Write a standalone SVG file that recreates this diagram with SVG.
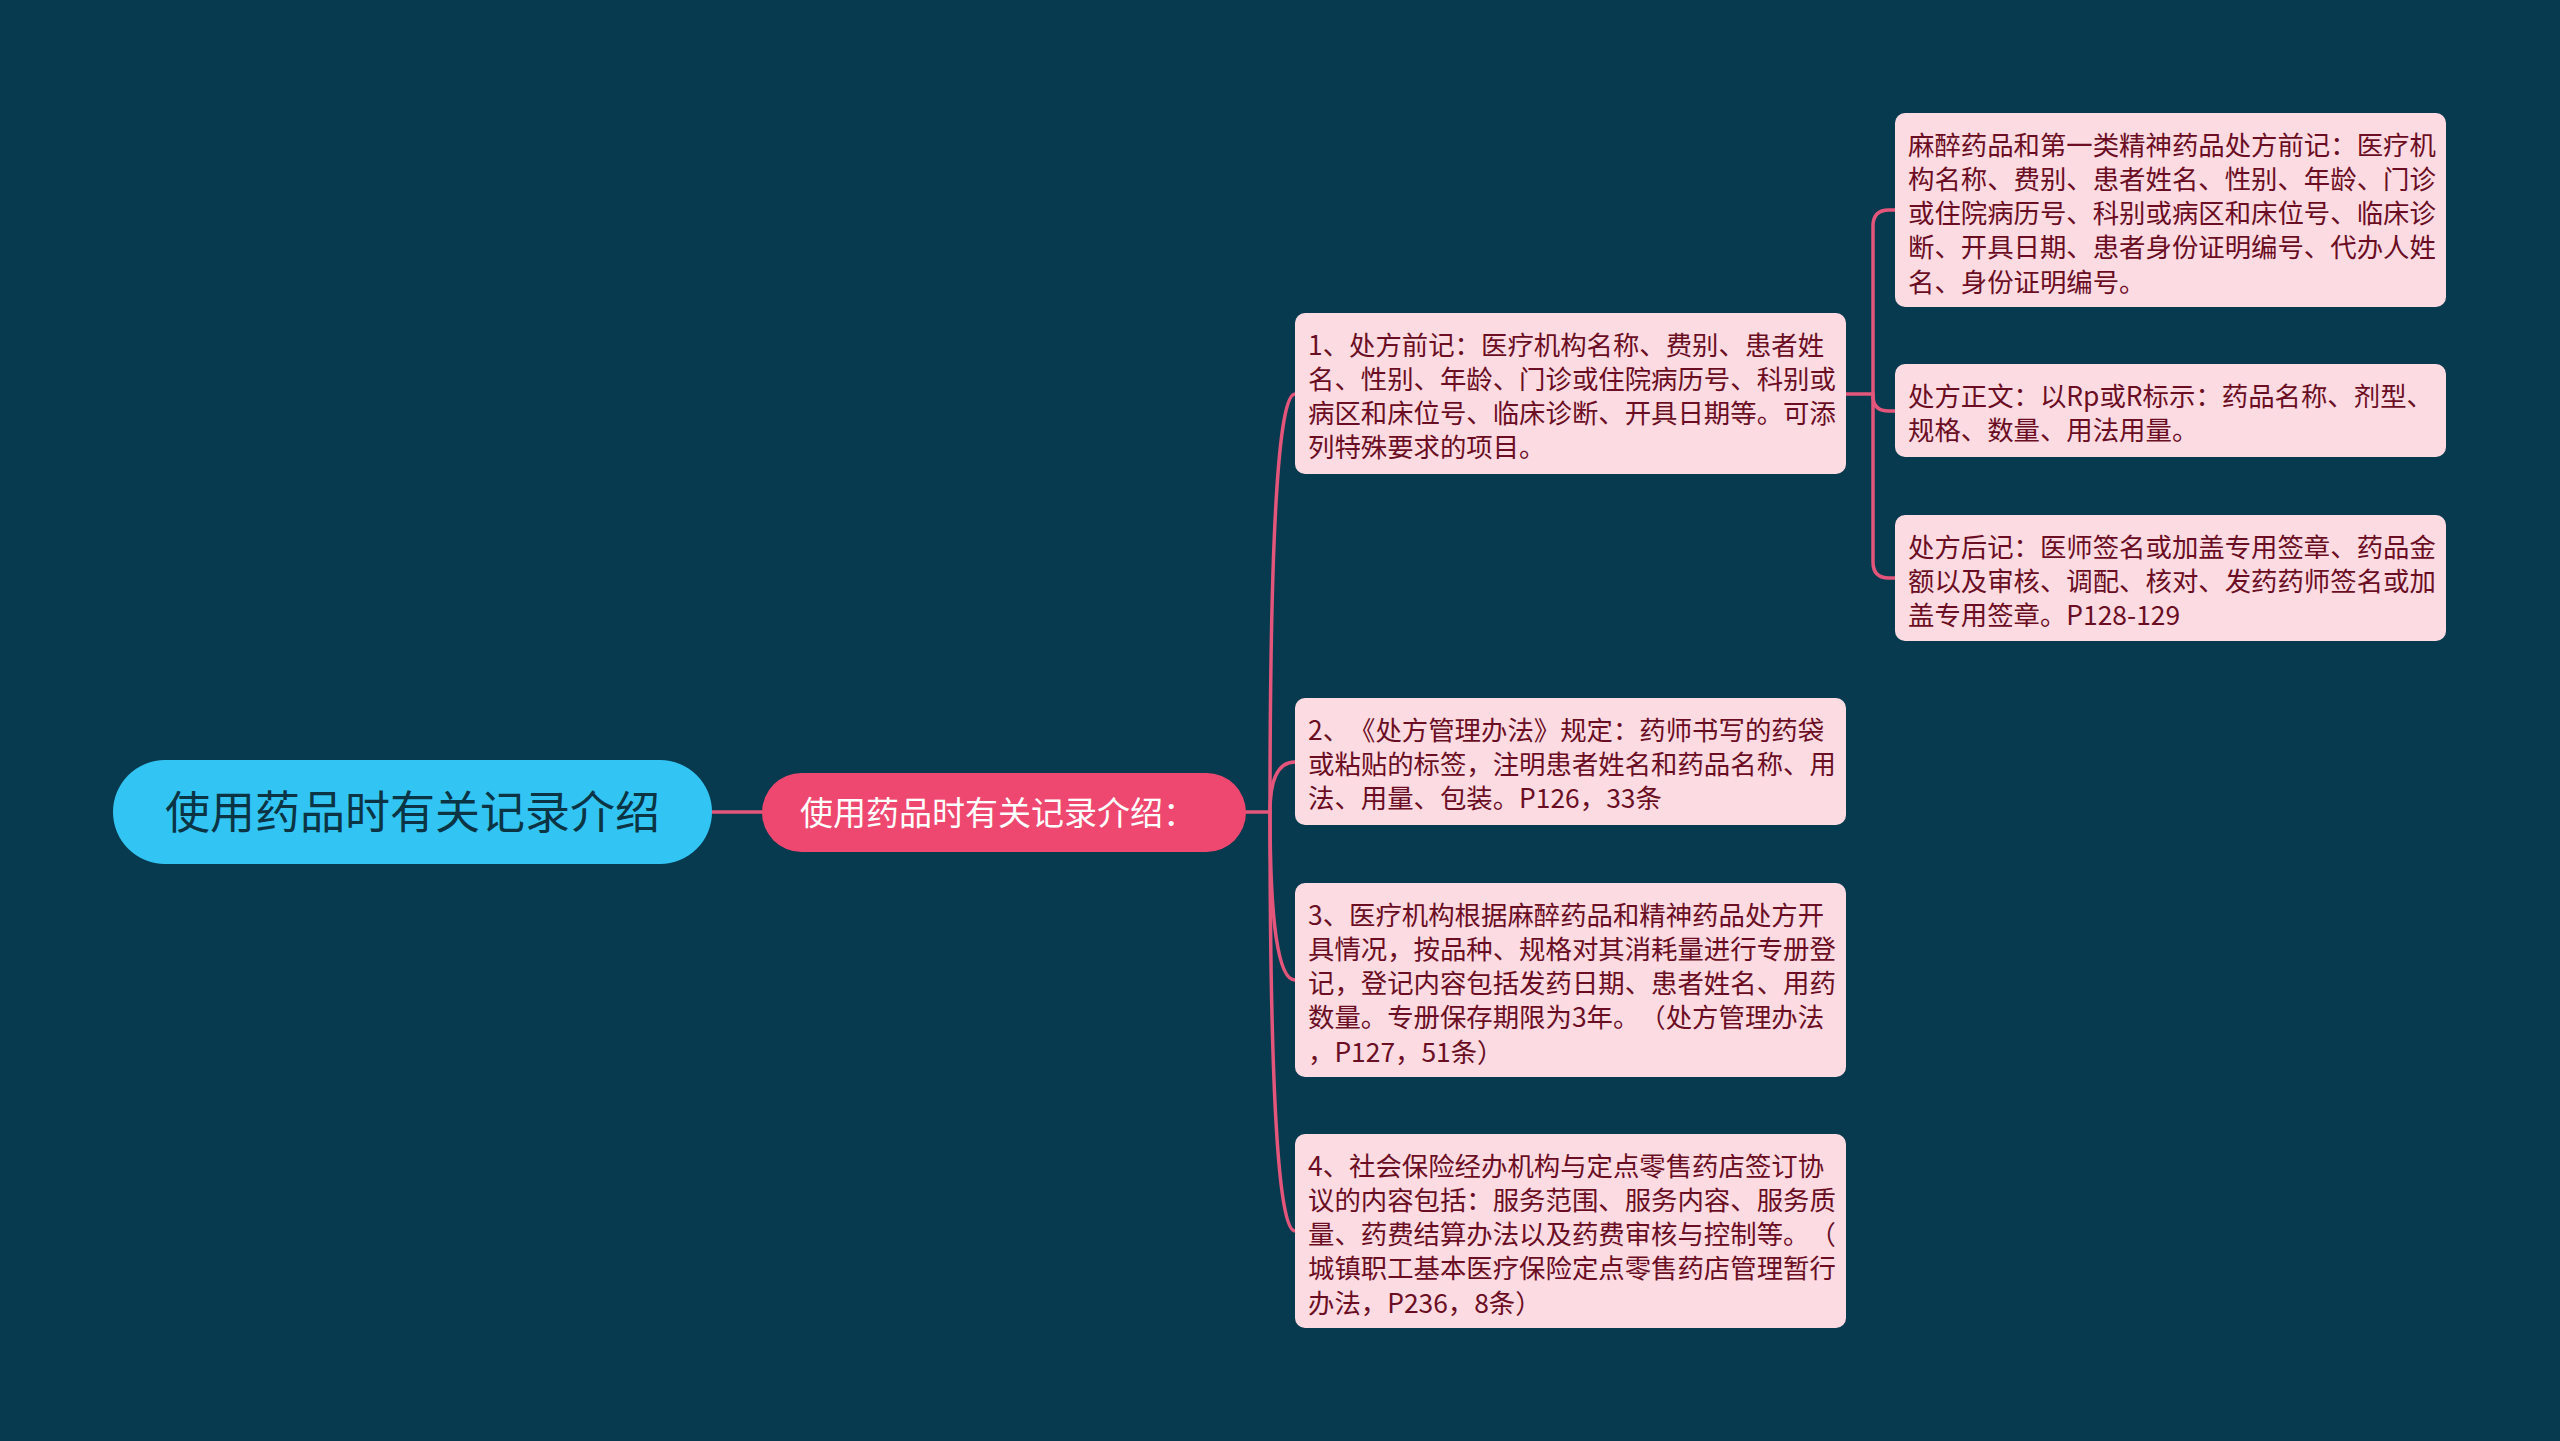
<svg xmlns="http://www.w3.org/2000/svg" width="2560" height="1441" viewBox="0 0 2560 1441">
<style>
.bg{fill:#073a4e}
.conn{fill:none;stroke:#e3557a;stroke-width:3.5;stroke-linecap:round}
.root{fill:#32c5f3}
.sub{fill:#ef4870}
.leaf{fill:#fddbe3}
.t{font-family:"Noto Sans CJK SC","Noto Sans",sans-serif;text-spacing-trim:space-all}
.rt{font-size:45px;fill:#0b3445}
.st{font-size:33px;fill:#ffffff}
.lt{font-size:26.4px;fill:#6b0e24}
</style>
<rect class="bg" x="0" y="0" width="2560" height="1441"/>
<g id="connectors">
<path class="conn" d="M712 812 H762"/>
<path class="conn" d="M1246 812 H1270"/>
<path class="conn" d="M1270 812 Q1270 394 1295 394"/>
<path class="conn" d="M1270 812 Q1270 762 1295 762"/>
<path class="conn" d="M1270 812 Q1270 980 1295 980"/>
<path class="conn" d="M1270 812 Q1270 1231 1295 1231"/>
<path class="conn" d="M1846 394 H1873"/>
<path class="conn" d="M1873 394 V226 Q1873 210 1889 210 H1895"/>
<path class="conn" d="M1873 394 V396 Q1873 411 1889 411 H1895"/>
<path class="conn" d="M1873 394 V562 Q1873 578 1889 578 H1895"/>
</g>
<g id="root">
<rect class="root" x="113" y="760" width="599" height="104" rx="52"/>
<text class="t rt" x="412.5" y="828.5" text-anchor="middle">使用药品时有关记录介绍</text>
</g>
<g id="sub">
<rect class="sub" x="762" y="773" width="484" height="79" rx="39.5"/>
<text class="t st" x="800" y="825">使用药品时有关记录介绍：</text>
</g>
<g id="n1">
<rect class="leaf" x="1295" y="313" width="551" height="161" rx="10"/>
<text class="t lt" x="1308" y="354.5"><tspan x="1308">1、处方前记：医疗机构名称、费别、患者姓</tspan><tspan x="1308" dy="34.3">名、性别、年龄、门诊或住院病历号、科别或</tspan><tspan x="1308" dy="34.3">病区和床位号、临床诊断、开具日期等。可添</tspan><tspan x="1308" dy="34.3">列特殊要求的项目。</tspan></text>
</g>
<g id="n2">
<rect class="leaf" x="1295" y="698" width="551" height="127" rx="10"/>
<text class="t lt" x="1308" y="739.5"><tspan x="1308">2、《处方管理办法》规定：药师书写的药袋</tspan><tspan x="1308" dy="34.3">或粘贴的标签，注明患者姓名和药品名称、用</tspan><tspan x="1308" dy="34.3">法、用量、包装。P126，33条</tspan></text>
</g>
<g id="n3">
<rect class="leaf" x="1295" y="883" width="551" height="194" rx="10"/>
<text class="t lt" x="1308" y="924.5"><tspan x="1308">3、医疗机构根据麻醉药品和精神药品处方开</tspan><tspan x="1308" dy="34.3">具情况，按品种、规格对其消耗量进行专册登</tspan><tspan x="1308" dy="34.3">记，登记内容包括发药日期、患者姓名、用药</tspan><tspan x="1308" dy="34.3">数量。专册保存期限为3年。（处方管理办法</tspan><tspan x="1308" dy="34.3">，P127，51条）</tspan></text>
</g>
<g id="n4">
<rect class="leaf" x="1295" y="1134" width="551" height="194" rx="10"/>
<text class="t lt" x="1308" y="1175.5"><tspan x="1308">4、社会保险经办机构与定点零售药店签订协</tspan><tspan x="1308" dy="34.3">议的内容包括：服务范围、服务内容、服务质</tspan><tspan x="1308" dy="34.3">量、药费结算办法以及药费审核与控制等。（</tspan><tspan x="1308" dy="34.3">城镇职工基本医疗保险定点零售药店管理暂行</tspan><tspan x="1308" dy="34.3">办法，P236，8条）</tspan></text>
</g>
<g id="n1a">
<rect class="leaf" x="1895" y="113" width="551" height="194" rx="10"/>
<text class="t lt" x="1908" y="154.5"><tspan x="1908">麻醉药品和第一类精神药品处方前记：医疗机</tspan><tspan x="1908" dy="34.3">构名称、费别、患者姓名、性别、年龄、门诊</tspan><tspan x="1908" dy="34.3">或住院病历号、科别或病区和床位号、临床诊</tspan><tspan x="1908" dy="34.3">断、开具日期、患者身份证明编号、代办人姓</tspan><tspan x="1908" dy="34.3">名、身份证明编号。</tspan></text>
</g>
<g id="n1b">
<rect class="leaf" x="1895" y="364" width="551" height="93" rx="10"/>
<text class="t lt" x="1908" y="405.5"><tspan x="1908">处方正文：以Rp或R标示：药品名称、剂型、</tspan><tspan x="1908" dy="34.3">规格、数量、用法用量。</tspan></text>
</g>
<g id="n1c">
<rect class="leaf" x="1895" y="515" width="551" height="126" rx="10"/>
<text class="t lt" x="1908" y="556.5"><tspan x="1908">处方后记：医师签名或加盖专用签章、药品金</tspan><tspan x="1908" dy="34.3">额以及审核、调配、核对、发药药师签名或加</tspan><tspan x="1908" dy="34.3">盖专用签章。P128-129</tspan></text>
</g>
</svg>
